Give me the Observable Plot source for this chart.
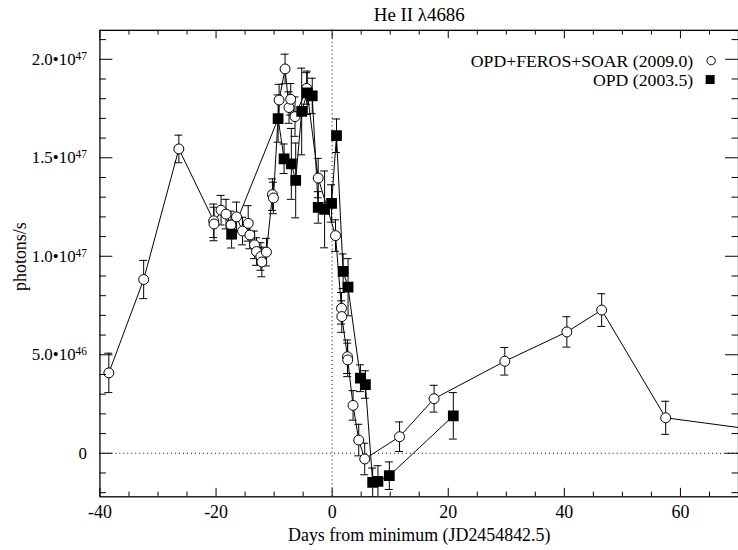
<!DOCTYPE html>
<html><head><meta charset="utf-8">
<script src="https://cdn.jsdelivr.net/npm/d3@7"></script>
<script src="https://cdn.jsdelivr.net/npm/@observablehq/plot@0.6"></script>
<style>
body{margin:0;background:#fff;}
#wrap{width:738px;height:550px;overflow:hidden;position:relative;background:#fff;}
</style></head><body><div id="wrap"></div>
<script>
const chartTitle = "He II λ4686";
const xLabel = "Days from minimum (JD2454842.5)";
const yLabel = "photons/s";
const seriesNames = ["OPD+FEROS+SOAR (2009.0)", "OPD (2003.5)"];

// OPD+FEROS+SOAR (2009.0): days, flux (units of 1e46 photons/s), error
const circleDays = [-38.47,-32.47,-26.41,-20.41,-20.35,-19.14,-18.28,-17.43,-16.47,-15.44,-14.46,-14.17,-13.38,-13.04,-12.28,-12.11,-11.32,-10.29,-10.12,-9.14,-8.11,-7.43,-7.14,-6.40,-4.39,-2.40,0.58,1.61,1.66,2.64,2.68,3.60,4.58,5.61,11.61,17.56,29.74,40.43,46.43,57.46,74.0];
const circleFlux = [4.08,8.82,15.45,11.80,11.64,12.34,12.14,11.59,12.00,11.28,11.67,11.08,10.58,10.24,9.99,9.71,10.21,13.13,12.96,17.93,19.51,17.55,17.97,17.09,18.52,13.97,11.05,7.36,6.94,4.90,4.74,2.43,0.67,-0.29,0.84,2.77,4.67,6.16,7.27,1.80,1.15];
const circleErr  = [1.0,0.97,0.7,0.85,0.85,0.75,0.75,0.7,0.75,0.7,0.9,0.7,0.7,0.7,0.7,0.75,0.7,0.8,0.8,0.8,0.75,0.8,0.8,1.0,0.8,1.0,0.8,0.8,0.8,0.85,0.85,0.75,0.8,0.8,0.75,0.68,0.7,0.77,0.83,0.84,0.8];

// OPD (2003.5)
const squareDays = [-17.32,-9.31,-8.28,-7.03,-6.28,-5.25,-4.29,-3.43,-2.40,-1.30,-0.10,0.75,1.89,2.74,4.87,5.73,6.98,7.89,9.85,20.87];
const squareFlux = [11.12,16.99,14.95,14.69,13.85,17.35,18.30,18.14,12.48,12.38,12.68,16.12,9.24,8.43,3.81,3.49,-1.48,-1.43,-1.14,1.90];
const squareErr  = [0.7,1.2,0.75,1.8,1.9,2.2,1.1,0.9,0.8,1.95,0.95,0.85,0.88,1.45,0.68,0.7,0.73,0.8,0.7,1.18];

const xMajorTicks = [-40,-20,0,20,40,60];
const xTickLabels = ["-40","-20","0","20","40","60"];
const xMinorTicks = [-35,-30,-25,-15,-10,-5,5,10,15,25,30,35,45,50,55,65,70];
const yMajorTicks = [0,5,10,15,20];
const yTickMantissa = ["0","5.0•10","1.0•10","1.5•10","2.0•10"];
const yTickExponent = ["","46","47","47","47"];
const yMinorTicks = [-2,-1,1,2,3,4,6,7,8,9,11,12,13,14,16,17,18,19,21];

const circles = circleDays.map((x,i)=>({x, y: circleFlux[i], e: circleErr[i]}));
const squares = squareDays.map((x,i)=>({x, y: squareFlux[i], e: squareErr[i]}));

const FONT = "'Liberation Serif', 'Times New Roman', serif";
const W = 742, H = 550, mL = 100, mR = 0, mT = 30, mB = 51;
const innerW = W - mL - mR, innerH = H - mT - mB;
const fs = 18;

function errMarks(data){
  return [
    Plot.ruleX(data, {x: "x", y1: d=>d.y-d.e, y2: d=>d.y+d.e, stroke: "#000", strokeWidth: 1, clip: true}),
    Plot.ruleY(data, {x1: "x", x2: "x", y: d=>d.y+d.e, insetLeft: -4, insetRight: -4, stroke: "#000", strokeWidth: 1, clip: true}),
    Plot.ruleY(data, {x1: "x", x2: "x", y: d=>d.y-d.e, insetLeft: -4, insetRight: -4, stroke: "#000", strokeWidth: 1, clip: true})
  ];
}

const chart = Plot.plot({
  width: W, height: H,
  marginLeft: mL, marginRight: mR, marginTop: mT, marginBottom: mB,
  x: {domain: [-40, 70], axis: null},
  y: {domain: [-2.21, 21.47], axis: null},
  marks: [
    Plot.ruleY([0], {stroke: "#000", strokeWidth: 1, strokeDasharray: "1,3"}),
    Plot.ruleX([0], {stroke: "#000", strokeWidth: 1, strokeDasharray: "1,3"}),
    Plot.line(squares, {x: "x", y: "y", stroke: "#000", strokeWidth: 1, clip: true}),
    Plot.line(circles, {x: "x", y: "y", stroke: "#000", strokeWidth: 1, clip: true}),
    ...errMarks(circles),
    ...errMarks(squares),
    Plot.dot(circles, {x: "x", y: "y", r: 5, fill: "#fff", stroke: "#000", strokeWidth: 1, clip: true}),
    Plot.dot(squares, {x: "x", y: "y", symbol: "square", r: 6.1, fill: "#000", stroke: "none", clip: true}),
    // inward ticks
    Plot.ruleX(xMinorTicks, {insetTop: innerH - 4.7, stroke: "#000"}),
    Plot.ruleX(xMajorTicks, {insetTop: innerH - 8.5, stroke: "#000"}),
    Plot.ruleX(xMinorTicks, {insetBottom: innerH - 4.7, stroke: "#000"}),
    Plot.ruleX(xMajorTicks, {insetBottom: innerH - 8.5, stroke: "#000"}),
    Plot.ruleY(yMinorTicks, {insetRight: innerW - 6.5, stroke: "#000"}),
    Plot.ruleY(yMajorTicks, {insetRight: innerW - 13, stroke: "#000"}),
    Plot.ruleY(yMinorTicks, {insetLeft: innerW - 6.5, stroke: "#000"}),
    Plot.ruleY(yMajorTicks, {insetLeft: innerW - 13, stroke: "#000"}),
    Plot.frame({stroke: "#000", strokeWidth: 1.3}),
    Plot.axisX({ticks: xMajorTicks, tickSize: 0, tickPadding: 9, fontSize: fs, label: null, fontFamily: FONT,
      tickFormat: d => xTickLabels[xMajorTicks.indexOf(d)], fill: "#000"}),
    Plot.axisY({ticks: yMajorTicks, tickSize: 0, tickPadding: 13, fontSize: 17, label: null, fontFamily: FONT,
      tickFormat: d => { const i = yMajorTicks.indexOf(d); return yTickMantissa[i] + (yTickExponent[i] ? "|" + yTickExponent[i] : ""); }, fill: "#000"}),
    Plot.text([xLabel], {frameAnchor: "bottom", lineAnchor: "middle", dy: 39, fontSize: fs, fill: "#000", fontFamily: FONT}),
    Plot.text([yLabel], {frameAnchor: "left", textAnchor: "middle", lineAnchor: "middle", dx: -80, dy: -7, rotate: -90, fontSize: fs, fill: "#000", fontFamily: FONT}),
    Plot.text([chartTitle], {frameAnchor: "top", lineAnchor: "middle", dy: -15, fontSize: 19, fill: "#000", fontFamily: FONT})
  ]
});

chart.style.fontFamily = FONT;
chart.setAttribute("font-family", FONT);
chart.style.background = "#fff";
document.getElementById("wrap").appendChild(chart);

// superscript exponents on y tick labels
d3.select(chart).selectAll('g[aria-label="y-axis tick label"] text').each(function(){
  const t = this.textContent;
  if (t.includes("|")) {
    const [m, e] = t.split("|");
    const sel = d3.select(this);
    sel.text(null);
    sel.append("tspan").text(m);
    sel.append("tspan").attr("dy", "-0.45em").attr("font-size", 11.5).text(e);
  }
});

// legend
const svg = d3.select(chart);
const lg = svg.append("g").attr("font-size", 17.8).attr("font-family", FONT).attr("fill", "#000");
const rows = [{y: 61, sym: "circle"}, {y: 80, sym: "square"}];
rows.forEach((r, i) => {
  lg.append("text").attr("x", 697).attr("y", r.y).attr("dy", "0.35em").attr("text-anchor", "end").text(seriesNames[i]);
  if (r.sym === "circle") {
    lg.append("circle").attr("cx", 715).attr("cy", r.y).attr("r", 4.2).attr("fill", "#fff").attr("stroke", "#000");
  } else {
    lg.append("rect").attr("x", 709.5).attr("y", r.y - 4.5).attr("width", 9).attr("height", 9).attr("fill", "#000");
  }
});
</script></body></html>
